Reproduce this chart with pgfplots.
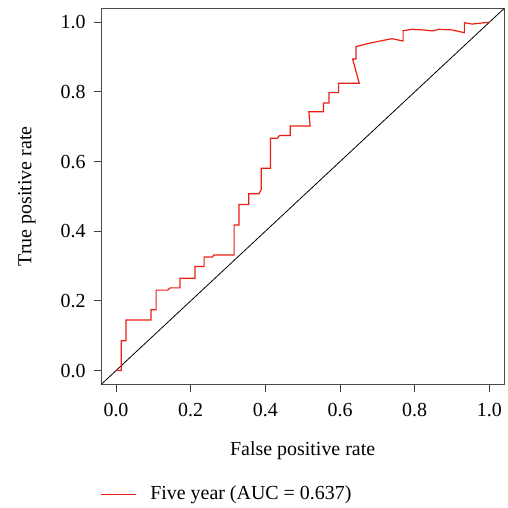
\documentclass[border=0pt]{standalone}
\usepackage{pgfplots}
\pgfplotsset{compat=1.18}
\usepackage{fontspec}
\setmainfont{Liberation Serif}
\definecolor{rocred}{RGB}{235,30,20}
\begin{document}
\begin{tikzpicture}
\begin{axis}[
  scale only axis,
  width=403bp, height=376bp,
  xmin=-0.04, xmax=1.04, ymin=-0.04, ymax=1.04,
  xtick={0,0.2,0.4,0.6,0.8,1}, ytick={0,0.2,0.4,0.6,0.8,1},
  xticklabels={0.0,0.2,0.4,0.6,0.8,1.0},
  yticklabels={0.0,0.2,0.4,0.6,0.8,1.0},
  xtick pos=bottom, ytick pos=left,
  tick align=outside, major tick length=7bp,
  tick style={black!75, line width=0.9bp},
  axis line style={black!70, line width=1bp},
  ticklabel style={font=\fontsize{20}{24}\selectfont},
  xticklabel style={yshift=-8bp},
  yticklabel style={xshift=-5bp},
  label style={font=\fontsize{20}{24}\selectfont},
  xlabel={False positive rate},
  ylabel={True positive rate},
  x label style={at={(axis description cs:0.5,-0.1755)}, anchor=center},
  y label style={at={(axis description cs:-0.184,0.5)}, anchor=center},
  legend style={at={(axis description cs:0,-0.29)}, anchor=west, draw=none, fill=none,
    font=\fontsize{20}{24}\selectfont, inner sep=0pt, column sep=0pt,
    nodes={inner sep=0pt}},
  legend cell align=left,
  legend image code/.code={},
]
\addplot[black, line width=0.8bp, forget plot] coordinates {(-0.04,-0.04) (1.04,1.04)};
\addplot[rocred, line width=1.2bp] coordinates {
(0,0) (0.0142,0) (0.0142,0.0858) (0.0267,0.0858) (0.0267,0.145)
(0.094,0.145) (0.094,0.1745) (0.1075,0.1745) (0.1075,0.231)
(0.138,0.231) (0.145,0.2375) (0.1715,0.2375) (0.1715,0.265)
(0.2115,0.265) (0.2115,0.2987) (0.236,0.2987) (0.236,0.326)
(0.2587,0.326) (0.262,0.332) (0.3164,0.332) (0.3164,0.418)
(0.3297,0.418) (0.3297,0.477) (0.3555,0.477) (0.3555,0.5075)
(0.383,0.5075) (0.389,0.52) (0.389,0.581) (0.414,0.581)
(0.414,0.667) (0.432,0.667) (0.438,0.675) (0.4667,0.675)
(0.4667,0.702) (0.52,0.702) (0.5165,0.743) (0.556,0.743)
(0.556,0.768) (0.5706,0.768) (0.5706,0.798) (0.5963,0.798)
(0.5963,0.825) (0.6515,0.825) (0.6337,0.8947) (0.6426,0.8947)
(0.6426,0.93) (0.678,0.9396) (0.7386,0.9528) (0.769,0.9462)
(0.769,0.9757) (0.7937,0.9797) (0.825,0.9777) (0.847,0.975)
(0.865,0.9797) (0.9,0.978) (0.933,0.970) (0.933,0.9986)
(0.9537,0.9948) (1.0,1.0)
};
\addlegendentry{\textcolor{rocred}{\rule[0.25em]{35bp}{1.2bp}}\hspace{14bp}Five year (AUC = 0.637)}
\end{axis}
\pgfresetboundingbox
\path (current axis.south west) ++(-101bp,-122.7bp) coordinate (bl);
\path (current axis.north east) ++(3.7bp,8.3bp) coordinate (tr);
\useasboundingbox (bl) rectangle (tr);
\end{tikzpicture}
\end{document}
